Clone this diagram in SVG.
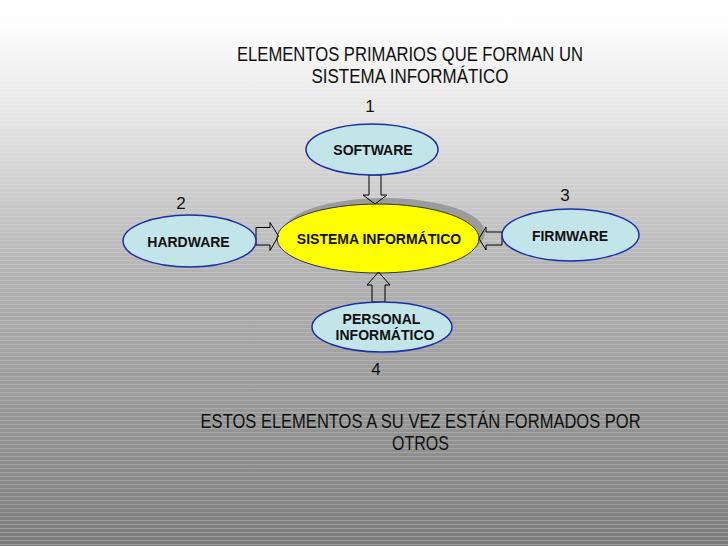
<svg xmlns="http://www.w3.org/2000/svg" width="728" height="546" viewBox="0 0 728 546">
  <defs>
    <linearGradient id="bg" x1="0" y1="0" x2="0" y2="1">
      <stop offset="0" stop-color="#ffffff"/>
      <stop offset="0.05" stop-color="#fdfdfd"/>
      <stop offset="0.22" stop-color="#e4e4e4"/>
      <stop offset="0.5" stop-color="#b3b3b3"/>
      <stop offset="1" stop-color="#7c7c7c"/>
    </linearGradient>
    <pattern id="stripes" width="8" height="4" patternUnits="userSpaceOnUse">
      <rect x="0" y="0" width="8" height="1" fill="#ffffff" fill-opacity="0.22"/>
    </pattern>
    <linearGradient id="fade" x1="0" y1="0" x2="0" y2="1">
      <stop offset="0" stop-color="#fff" stop-opacity="0"/>
      <stop offset="0.15" stop-color="#fff" stop-opacity="0.6"/>
      <stop offset="1" stop-color="#fff" stop-opacity="1"/>
    </linearGradient>
    <mask id="stripeMask">
      <rect width="728" height="546" fill="url(#fade)"/>
    </mask>
  </defs>
  <style>
    .title { font-family: "Liberation Sans", Arial, sans-serif; font-size: 19.5px; fill: #111; text-anchor: middle; }
    .num { font-family: "Liberation Sans", Arial, sans-serif; font-size: 17px; fill: #111; text-anchor: middle; }
    .lbl { font-family: "Liberation Sans", Arial, sans-serif; font-size: 14px; font-weight: bold; fill: #111; text-anchor: middle; }
    .outer { fill: #c2e5ea; stroke: #1c2fa6; stroke-width: 1.5; }
    .arrow { fill: none; stroke: #000; stroke-width: 1; stroke-linejoin: miter; }
  </style>

  <rect width="728" height="546" fill="url(#bg)"/>
  <rect width="728" height="546" fill="url(#stripes)" mask="url(#stripeMask)"/>

  <g id="titulo">
    <text class="title" x="410" y="61" textLength="346" lengthAdjust="spacingAndGlyphs">ELEMENTOS PRIMARIOS QUE FORMAN UN</text>
    <text class="title" x="410" y="82.5" textLength="197" lengthAdjust="spacingAndGlyphs">SISTEMA INFORMÁTICO</text>
  </g>

  <g id="sistema">
    <ellipse cx="384" cy="232.5" rx="101" ry="34.5" fill="#9c9c9c"/>
    <ellipse cx="378" cy="238.5" rx="101" ry="34.5" fill="#ffff00" stroke="#333" stroke-width="1"/>
    <text class="lbl" x="379" y="244">SISTEMA INFORMÁTICO</text>
  </g>

  <g id="connectors">
    <path class="arrow" d="M369,175 L381,175 L381,195 L387,195 L375,204 L363,195 L369,195 Z"/>
    <path class="arrow" d="M372,302 L385,302 L385,285 L390,285 L378.5,272 L367,285 L372,285 Z"/>
    <path class="arrow" d="M256,227.5 L270,227.5 L270,222.5 L278.5,236 L270,250.5 L270,245 L256,245 Z"/>
    <path class="arrow" d="M502,232 L486,232 L486,227 L479,238.5 L486,250 L486,245 L502,245 Z"/>
  </g>

  <g id="software">
    <ellipse class="outer" cx="372" cy="149.5" rx="66" ry="25.5"/>
    <text class="lbl" x="373" y="155">SOFTWARE</text>
    <text class="num" x="370" y="112">1</text>
  </g>

  <g id="hardware">
    <ellipse class="outer" cx="189.5" cy="241" rx="66.5" ry="26"/>
    <text class="lbl" x="188.5" y="247">HARDWARE</text>
    <text class="num" x="181" y="209">2</text>
  </g>

  <g id="firmware">
    <ellipse class="outer" cx="570.5" cy="235" rx="68.5" ry="26"/>
    <text class="lbl" x="570" y="241">FIRMWARE</text>
    <text class="num" x="565" y="201">3</text>
  </g>

  <g id="personal">
    <ellipse class="outer" cx="382" cy="327" rx="70" ry="25"/>
    <text class="lbl" x="381.5" y="324">PERSONAL</text>
    <text class="lbl" x="385" y="340">INFORMÁTICO</text>
    <text class="num" x="376" y="375">4</text>
  </g>

  <g id="nota">
    <text class="title" x="420.6" y="428" textLength="440" lengthAdjust="spacingAndGlyphs">ESTOS ELEMENTOS A SU VEZ ESTÁN FORMADOS POR</text>
    <text class="title" x="420.5" y="449.5" textLength="57" lengthAdjust="spacingAndGlyphs">OTROS</text>
  </g>
</svg>
